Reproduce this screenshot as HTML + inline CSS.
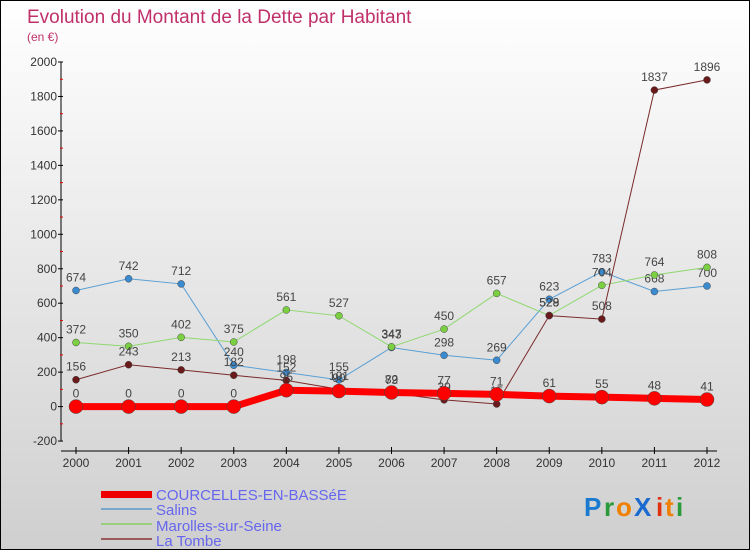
<!DOCTYPE html>
<html><head><meta charset="utf-8"><style>
html,body{margin:0;padding:0}
body{width:750px;height:550px;overflow:hidden;font-family:"Liberation Sans",sans-serif}
#wrap{position:relative;width:748px;height:548px;border:1px solid #000;background:linear-gradient(#fff,#cfcfcf)}
svg{position:absolute;left:0;top:0}
</style></head><body>
<div id="wrap">
<svg id="chart" width="750" height="550">
<text x="26" y="22" font-size="19" fill="#c0306a">Evolution du Montant de la Dette par Habitant</text>
<text x="26" y="40" font-size="12" fill="#c0306a">(en €)</text>
<g id="axes"></g><g id="series"></g>
<g>
<rect x="100" y="490" width="51" height="7" fill="#e00"/>
<text x="155" y="499" font-size="15" fill="#6666ee">COURCELLES-EN-BASSéE</text>
<rect x="100" y="507" width="51" height="2" fill="#7aa8cc"/>
<text x="155" y="514" font-size="15" fill="#6666ee">Salins</text>
<rect x="100" y="522" width="51" height="2" fill="#99d080"/>
<text x="155" y="530" font-size="15" fill="#6666ee">Marolles-sur-Seine</text>
<rect x="100" y="537" width="51" height="2" fill="#9a5a5a"/>
<text x="155" y="545" font-size="15" fill="#6666ee">La Tombe</text>
</g>
<g font-size="26" font-weight="bold">
<text x="583" y="515" fill="#1a7ad0">P</text><text x="603" y="515" fill="#2a9a3a">r</text><text x="615" y="515" fill="#f08000">o</text><text x="633" y="515" fill="#1a6ad0">X</text><text x="655" y="515" fill="#e03010">i</text><text x="664" y="515" fill="#f08000">t</text><text x="675" y="515" fill="#2a9a3a">i</text>
</g>
</svg>
</div>
<script>
const years=[2000,2001,2002,2003,2004,2005,2006,2007,2008,2009,2010,2011,2012];
const yTicks=[-200,0,200,400,600,800,1000,1200,1400,1600,1800,2000];
const courcelles=[0,0,0,0,95,90,82,77,71,61,55,48,41];
const salins=[674,742,712,240,198,155,343,298,269,623,783,668,700];
const marolles=[372,350,402,375,561,527,347,450,657,529,704,764,808];
const laTombe=[156,243,213,182,152,101,79,39,15,528,508,1837,1896];
const NS='http://www.w3.org/2000/svg';
const xs=i=>75+i*(706-75)/12;
const ys=v=>405.6-v*(405.6-61)/2000;
function mk(tag,attrs,parent){const e=document.createElementNS(NS,tag);for(const k in attrs)e.setAttribute(k,attrs[k]);parent.appendChild(e);return e;}
const ax=document.getElementById('axes');
let l=mk('line',{x1:60,y1:ys(-200),x2:60,y2:ys(2000),stroke:'#000'},ax);


l=mk('line',{x1:60,y1:450,x2:716,y2:450,stroke:'#000'},ax);


yTicks.forEach(v=>{
  mk('line',{x1:57,x2:62,y1:ys(v),y2:ys(v),stroke:'#000'},ax);
  if(v<2000)mk('line',{x1:59,x2:62,y1:ys(v+100),y2:ys(v+100),stroke:'#e00'},ax);
  const t=mk('text',{x:56,y:ys(v)+4,'text-anchor':'end','font-size':12,fill:'#333'},ax);
  t.textContent=v;
  
  
});
years.forEach((y,i)=>{
  mk('line',{x1:xs(i),x2:xs(i),y1:446,y2:453,stroke:'#000'},ax);
  const t=mk('text',{x:xs(i),y:466,'text-anchor':'middle','font-size':12,fill:'#333'},ax);
  t.textContent=y;
  
  
});
const sg=document.getElementById('series');
function draw(vals,color,w,r,name,dot){
  const g=mk('g',{},sg);
  
  
  const p=mk('polyline',{points:vals.map((v,i)=>xs(i)+','+ys(v)).join(' '),fill:'none',stroke:color,'stroke-width':w},g);
  
  
  vals.forEach((v,i)=>{
    const c=mk('circle',{cx:xs(i),cy:ys(v),r:r,fill:dot,stroke:'#444','stroke-width':0.5},g);
    
    
    const t=mk('text',{x:xs(i),y:ys(v)-9,'text-anchor':'middle','font-size':12,fill:'#444'},g);
    t.textContent=v;
    
    
  });
}
draw(salins,'#5a9fd4',1,3.5,'salins','#3a8ad0');
draw(marolles,'#8fd870',1,3.5,'marolles','#7ad040');
draw(laTombe,'#7a2a2a',1,3.5,'la-tombe','#6a1a1a');
draw(courcelles,'#f00',7,7,'courcelles','#f00');
</script>
</body></html>
